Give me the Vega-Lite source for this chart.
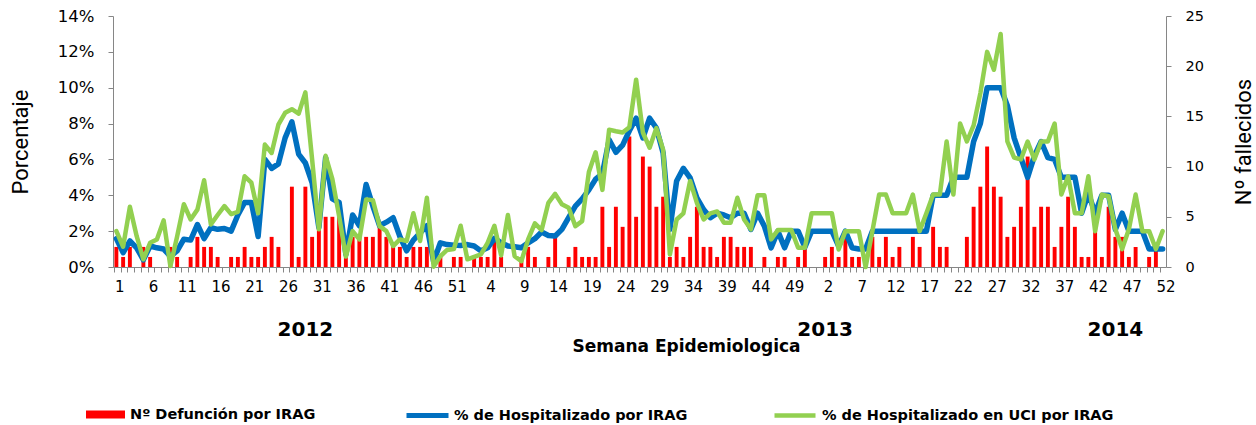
{
  "$schema": "https://vega.github.io/schema/vega-lite/v6.json",
  "width": 1053,
  "height": 251,
  "autosize": {"type": "none"},
  "padding": {"left": 113, "top": 16, "right": 90, "bottom": 158},
  "background": "white",
  "config": {"view": {"stroke": null}, "axis": {"grid": false}},
  "datasets": {
    "main": [
      {"i":1,"d":2,"h":1.58,"u":2.0},{"i":2,"d":1,"h":0.8,"u":1.13},{"i":3,"d":2,"h":1.45,"u":3.36},{"i":4,"d":0,"h":1.07,"u":1.73},{"i":5,"d":2,"h":0.4,"u":0.43},
      {"i":6,"d":1,"h":1.17,"u":1.35},{"i":7,"d":0,"h":1.07,"u":1.54},{"i":8,"d":0,"h":1.0,"u":2.6},{"i":9,"d":2,"h":0.6,"u":0.05},{"i":10,"d":1,"h":0.9,"u":1.7},
      {"i":11,"d":0,"h":1.55,"u":3.5},{"i":12,"d":1,"h":1.5,"u":2.65},{"i":13,"d":3,"h":2.37,"u":3.2},{"i":14,"d":2,"h":1.58,"u":4.84},{"i":15,"d":2,"h":2.2,"u":2.37},
      {"i":16,"d":1,"h":2.1,"u":2.9},{"i":17,"d":0,"h":2.15,"u":3.4},{"i":18,"d":1,"h":2.0,"u":2.95},{"i":19,"d":1,"h":2.9,"u":3.08},{"i":20,"d":2,"h":3.6,"u":5.06},
      {"i":21,"d":1,"h":3.6,"u":4.7},{"i":22,"d":1,"h":1.7,"u":3.0},{"i":23,"d":2,"h":6.0,"u":6.83},{"i":24,"d":3,"h":5.5,"u":6.36},{"i":25,"d":2,"h":5.75,"u":7.94},
      {"i":26,"d":0,"h":7.2,"u":8.6},{"i":27,"d":8,"h":8.1,"u":8.8},{"i":28,"d":1,"h":6.3,"u":8.55},{"i":29,"d":8,"h":5.8,"u":9.74},{"i":30,"d":3,"h":4.7,"u":6.0},
      {"i":31,"d":4,"h":2.2,"u":2.1},{"i":32,"d":5,"h":6.1,"u":6.2},{"i":33,"d":5,"h":3.8,"u":4.9},{"i":34,"d":6,"h":3.6,"u":2.84},{"i":35,"d":3,"h":0.7,"u":0.58},
      {"i":36,"d":3,"h":2.9,"u":2.0},{"i":37,"d":3,"h":2.3,"u":1.54},{"i":38,"d":3,"h":4.6,"u":3.77},{"i":39,"d":3,"h":3.4,"u":3.73},{"i":40,"d":4,"h":2.3,"u":2.28},
      {"i":41,"d":3,"h":2.5,"u":2.0},{"i":42,"d":2,"h":2.75,"u":1.17},{"i":43,"d":2,"h":1.7,"u":1.54},{"i":44,"d":1,"h":0.9,"u":1.45},{"i":45,"d":2,"h":1.5,"u":3.0},
      {"i":46,"d":2,"h":1.9,"u":1.45},{"i":47,"d":2,"h":2.3,"u":3.86},{"i":48,"d":0,"h":0.3,"u":0.02},{"i":49,"d":1,"h":1.35,"u":0.6},{"i":50,"d":0,"h":1.25,"u":0.95},
      {"i":51,"d":1,"h":1.22,"u":1.0},{"i":52,"d":1,"h":1.2,"u":2.3},
      {"i":53,"d":0,"h":1.25,"u":0.43},{"i":54,"d":1,"h":1.17,"u":0.57},{"i":55,"d":1,"h":0.9,"u":0.7},{"i":56,"d":1,"h":1.07,"u":1.35},{"i":57,"d":3,"h":1.6,"u":2.3},
      {"i":58,"d":1,"h":1.35,"u":0.65},{"i":59,"d":0,"h":1.17,"u":2.9},{"i":60,"d":0,"h":1.13,"u":0.6},{"i":61,"d":1,"h":1.07,"u":0.33},{"i":62,"d":2,"h":1.35,"u":1.54},
      {"i":63,"d":1,"h":1.58,"u":2.43},{"i":64,"d":0,"h":1.95,"u":2.06},{"i":65,"d":1,"h":1.76,"u":3.58},{"i":66,"d":3,"h":1.73,"u":4.08},{"i":67,"d":0,"h":2.1,"u":3.5},
      {"i":68,"d":1,"h":2.75,"u":3.3},{"i":69,"d":2,"h":3.4,"u":2.28},{"i":70,"d":1,"h":3.8,"u":2.56},{"i":71,"d":1,"h":4.3,"u":5.3},{"i":72,"d":1,"h":4.9,"u":6.4},
      {"i":73,"d":6,"h":5.2,"u":4.3},{"i":74,"d":2,"h":7.1,"u":7.66},{"i":75,"d":6,"h":6.4,"u":7.57},{"i":76,"d":4,"h":6.8,"u":7.5},{"i":77,"d":13,"h":7.6,"u":7.8},
      {"i":78,"d":5,"h":8.3,"u":10.45},{"i":79,"d":11,"h":7.2,"u":7.5},{"i":80,"d":10,"h":8.3,"u":6.65},{"i":81,"d":6,"h":7.75,"u":7.75},{"i":82,"d":7,"h":6.36,"u":6.55},
      {"i":83,"d":1,"h":2.1,"u":0.7},{"i":84,"d":2,"h":4.8,"u":2.65},{"i":85,"d":1,"h":5.5,"u":2.99},{"i":86,"d":3,"h":4.97,"u":4.8},{"i":87,"d":6,"h":3.86,"u":3.58},
      {"i":88,"d":2,"h":3.2,"u":2.65},{"i":89,"d":2,"h":2.75,"u":2.99},{"i":90,"d":1,"h":3.0,"u":3.1},{"i":91,"d":3,"h":2.9,"u":2.47},{"i":92,"d":3,"h":2.75,"u":2.47},
      {"i":93,"d":2,"h":3.0,"u":3.86},{"i":94,"d":2,"h":3.0,"u":2.65},{"i":95,"d":2,"h":2.1,"u":2.1},{"i":96,"d":0,"h":3.0,"u":4.0},{"i":97,"d":1,"h":2.28,"u":4.0},
      {"i":98,"d":0,"h":1.07,"u":1.54},{"i":99,"d":1,"h":2.0,"u":2.06},{"i":100,"d":1,"h":1.07,"u":2.06},{"i":101,"d":0,"h":2.0,"u":2.06},{"i":102,"d":1,"h":2.0,"u":1.07},
      {"i":103,"d":2,"h":1.1,"u":1.07},{"i":104,"d":0,"h":2.0,"u":3.0},
      {"i":105,"d":0,"h":2.0,"u":3.0},{"i":106,"d":1,"h":2.0,"u":3.0},{"i":107,"d":2,"h":2.0,"u":3.0},{"i":108,"d":1,"h":1.17,"u":0.98},{"i":109,"d":3,"h":2.0,"u":2.0},
      {"i":110,"d":1,"h":1.07,"u":2.0},{"i":111,"d":1,"h":1.0,"u":2.0},{"i":112,"d":0,"h":1.0,"u":0.0},{"i":113,"d":3,"h":2.0,"u":2.0},{"i":114,"d":1,"h":2.0,"u":4.04},
      {"i":115,"d":3,"h":2.0,"u":4.04},{"i":116,"d":1,"h":2.0,"u":3.0},{"i":117,"d":2,"h":2.0,"u":3.0},{"i":118,"d":0,"h":2.0,"u":3.0},{"i":119,"d":3,"h":2.0,"u":4.04},
      {"i":120,"d":2,"h":2.0,"u":2.0},{"i":121,"d":0,"h":2.0,"u":3.0},{"i":122,"d":4,"h":4.0,"u":4.04},{"i":123,"d":2,"h":4.0,"u":4.04},{"i":124,"d":2,"h":4.0,"u":7.0},
      {"i":125,"d":0,"h":5.0,"u":4.04},{"i":126,"d":0,"h":5.0,"u":8.0},{"i":127,"d":3,"h":5.0,"u":7.0},{"i":128,"d":6,"h":7.0,"u":7.9},{"i":129,"d":8,"h":8.0,"u":9.7},
      {"i":130,"d":12,"h":10.0,"u":12.0},{"i":131,"d":8,"h":10.0,"u":11.0},{"i":132,"d":7,"h":10.0,"u":13.0},{"i":133,"d":3,"h":9.0,"u":7.0},{"i":134,"d":4,"h":7.2,"u":6.1},
      {"i":135,"d":6,"h":6.1,"u":6.0},{"i":136,"d":11,"h":5.0,"u":7.0},{"i":137,"d":4,"h":6.2,"u":6.0},{"i":138,"d":6,"h":7.0,"u":7.0},{"i":139,"d":6,"h":6.1,"u":7.0},
      {"i":140,"d":2,"h":6.0,"u":8.0},{"i":141,"d":4,"h":5.0,"u":4.04},{"i":142,"d":7,"h":5.0,"u":5.06},{"i":143,"d":4,"h":5.0,"u":3.0},{"i":144,"d":1,"h":3.0,"u":3.0},
      {"i":145,"d":1,"h":4.1,"u":5.06},{"i":146,"d":4,"h":3.0,"u":2.0},{"i":147,"d":1,"h":4.0,"u":4.04},{"i":148,"d":6,"h":4.0,"u":3.95},{"i":149,"d":3,"h":2.1,"u":2.1},
      {"i":150,"d":3,"h":3.0,"u":1.0},{"i":151,"d":1,"h":2.0,"u":2.1},{"i":152,"d":2,"h":2.0,"u":4.04},{"i":153,"d":0,"h":2.0,"u":2.0},{"i":154,"d":1,"h":1.0,"u":2.0},
      {"i":155,"d":2,"h":1.0,"u":1.0},{"i":156,"d":0,"h":1.0,"u":2.0}
    ],
    "years": [
      {"i": 29, "year": "2012"},
      {"i": 106, "year": "2013"},
      {"i": 149, "year": "2014"}
    ]
  },
  "layer": [
    {
      "data": {"name": "main"},
      "mark": {"type": "bar", "color": "#FF0000"},
      "encoding": {
        "x": {
          "field": "i", "type": "ordinal",
          "scale": {"paddingInner": 0.42, "paddingOuter": 0.21},
          "axis": {
            "title": "Semana Epidemiologica",
            "titleFont": "DejaVu Sans", "titleFontWeight": "bold", "titleFontSize": 17, "titleColor": "#000000",
            "titleX": 573, "titleAlign": "center", "titlePadding": 44,
            "labelExpr": "(datum.value - 1) % 5 == 0 ? '' + (((datum.value - 1) % 52) + 1) : ''",
            "labelAngle": 0, "labelFont": "DejaVu Sans", "labelFontSize": 15, "labelColor": "#000000",
            "labelPadding": 7, "labelOverlap": false, "bandPosition": 0, "labelOffset": 3.375,
            "tickSize": 5, "tickColor": "#868686", "domainColor": "#868686"
          }
        },
        "y": {
          "field": "d", "type": "quantitative",
          "scale": {"domain": [0, 25], "nice": false},
          "axis": {
            "orient": "right", "values": [0, 5, 10, 15, 20, 25],
            "title": "Nº fallecidos", "titleFont": "Roboto", "titleFontWeight": "normal", "titleFontSize": 22, "titleColor": "#000000",
            "titleAngle": 270, "titleBaseline": "top", "titlePadding": 30,
            "labelFont": "DejaVu Sans", "labelFontSize": 14.5, "labelColor": "#000000", "labelPadding": 14,
            "labelOverlap": false, "labelFlush": false, "labelBound": false,
            "tickSize": 5, "tickColor": "#868686", "domainColor": "#868686"
          }
        },
        "fill": {
          "datum": "Nº Defunción por IRAG", "type": "nominal",
          "scale": {"range": ["#FF0000"]},
          "legend": {
            "orient": "none", "legendX": -28, "legendY": 378, "direction": "horizontal", "title": null, "padding": 0,
            "symbolType": "M-1,-0.2H1V0.2H-1Z", "symbolSize": 1521,
            "labelFont": "DejaVu Sans", "labelFontWeight": "bold", "labelFontSize": 14.5, "labelColor": "#000000", "labelOffset": 4, "labelLimit": 400
          }
        }
      }
    },
    {
      "layer": [
        {
          "data": {"name": "main"},
          "mark": {"type": "line", "strokeWidth": 5.5, "strokeJoin": "round", "strokeCap": "round"},
          "encoding": {
            "x": {"field": "i", "type": "ordinal"},
            "y": {
              "field": "h", "type": "quantitative",
              "scale": {"domain": [0, 14], "nice": false},
              "axis": {
                "orient": "left", "values": [0, 2, 4, 6, 8, 10, 12, 14], "tickCount": 8,
                "labelExpr": "datum.value + '%'",
                "title": "Porcentaje", "titleFont": "Roboto", "titleFontWeight": "normal", "titleFontSize": 22, "titleColor": "#000000", "titlePadding": 25,
                "labelFont": "DejaVu Sans", "labelFontSize": 16.5, "labelColor": "#000000", "labelPadding": 14,
                "labelOverlap": false, "labelFlush": false, "labelBound": false,
                "tickSize": 5, "tickColor": "#868686", "domainColor": "#868686"
              }
            },
            "stroke": {
              "datum": "% de Hospitalizado por IRAG", "type": "nominal",
              "scale": {"range": ["#0070C0"]},
              "legend": {
                "orient": "none", "legendX": 291, "legendY": 376, "direction": "horizontal", "title": null, "padding": 0,
                "symbolType": "stroke", "symbolSize": 1764, "symbolStrokeWidth": 5,
                "labelFont": "DejaVu Sans", "labelFontWeight": "bold", "labelFontSize": 14.5, "labelColor": "#000000", "labelOffset": 3, "labelLimit": 400
              }
            }
          }
        },
        {
          "data": {"name": "main"},
          "mark": {"type": "line", "strokeWidth": 4.5, "strokeJoin": "round", "strokeCap": "round"},
          "encoding": {
            "x": {"field": "i", "type": "ordinal"},
            "y": {
              "field": "u", "type": "quantitative",
              "scale": {"domain": [0, 14], "nice": false},
              "axis": {
                "orient": "left", "values": [0, 2, 4, 6, 8, 10, 12, 14], "tickCount": 8,
                "labelExpr": "datum.value + '%'",
                "title": "Porcentaje", "titleFont": "Roboto", "titleFontWeight": "normal", "titleFontSize": 22, "titleColor": "#000000", "titlePadding": 25,
                "labelFont": "DejaVu Sans", "labelFontSize": 16.5, "labelColor": "#000000", "labelPadding": 14,
                "labelOverlap": false, "labelFlush": false, "labelBound": false,
                "tickSize": 5, "tickColor": "#868686", "domainColor": "#868686"
              }
            },
            "color": {
              "datum": "% de Hospitalizado en UCI por IRAG", "type": "nominal",
              "scale": {"range": ["#92D050"]},
              "legend": {
                "orient": "none", "legendX": 659, "legendY": 376.5, "direction": "horizontal", "title": null, "padding": 0,
                "symbolType": "stroke", "symbolSize": 1681, "symbolStrokeWidth": 4.5,
                "labelFont": "DejaVu Sans", "labelFontWeight": "bold", "labelFontSize": 14.5, "labelColor": "#000000", "labelOffset": 4, "labelLimit": 400
              }
            }
          }
        }
      ]
    },
    {
      "data": {"name": "years"},
      "mark": {"type": "text", "font": "DejaVu Sans", "fontWeight": "bold", "fontSize": 20, "baseline": "middle", "align": "center", "dy": 63, "color": "#000000"},
      "encoding": {
        "x": {"field": "i", "type": "ordinal"},
        "y": {"datum": 0, "type": "quantitative", "scale": {"domain": [0, 14], "nice": false}, "axis": null},
        "text": {"field": "year", "type": "nominal"}
      }
    }
  ],
  "resolve": {"scale": {"y": "independent"}, "axis": {"y": "independent"}}
}
